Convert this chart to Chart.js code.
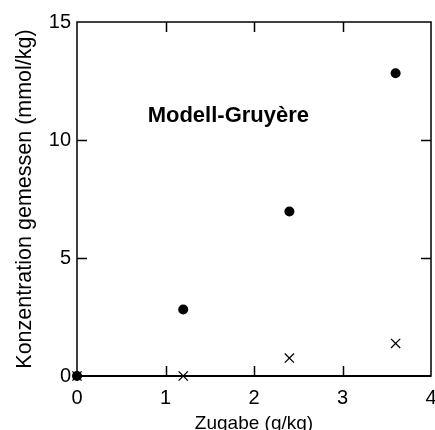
<!DOCTYPE html>
<html>
<head>
<meta charset="utf-8">
<script src="https://cdn.jsdelivr.net/npm/chart.js@4.4.1/dist/chart.umd.min.js"></script>
<style>
html,body{margin:0;padding:0;background:#fff;}
#wrap{width:435px;height:430px;}
</style>
</head>
<body>
<div id="wrap"><canvas id="c" width="435" height="430"></canvas></div>
<script>
const zugabe = [0, 1.2, 2.4, 3.6];
const gemessenPunkte = [0.0, 2.82, 6.97, 12.83];
const gemessenKreuze = [0.0, 0.0, 0.76, 1.38];
const xTicks = [0, 1, 2, 3, 4];
const yTicks = [0, 5, 10, 15];
const chartLabel = 'Modell-Gruyère';
const xTitle = 'Zugabe (g/kg)';
const yTitle = 'Konzentration gemessen (mmol/kg)';

const FONT = '"Liberation Sans", Arial, sans-serif';

const framePlugin = {
  id: 'frame',
  afterDatasetsDraw(chart) {
    const {ctx, chartArea: a, scales: {x, y}} = chart;
    ctx.save();
    ctx.strokeStyle = '#000';
    ctx.lineWidth = 1.5;
    ctx.strokeRect(a.left, a.top, a.right - a.left, a.bottom - a.top);
    ctx.lineWidth = 2;
    ctx.beginPath();
    ctx.moveTo(a.left, a.bottom);
    ctx.lineTo(a.right, a.bottom);
    ctx.stroke();
    ctx.lineWidth = 1.5;
    const tl = 10;
    ctx.beginPath();
    xTicks.forEach(v => {
      if (v === x.min || v === x.max) return;
      const px = Math.round(x.getPixelForValue(v)) + 0.5;
      ctx.moveTo(px, a.bottom); ctx.lineTo(px, a.bottom - tl);
      ctx.moveTo(px, a.top); ctx.lineTo(px, a.top + tl);
    });
    yTicks.forEach(v => {
      if (v === y.min || v === y.max) return;
      const py = Math.round(y.getPixelForValue(v)) + 0.5;
      ctx.moveTo(a.left, py); ctx.lineTo(a.left + tl, py);
      ctx.moveTo(a.right, py); ctx.lineTo(a.right - tl, py);
    });
    ctx.stroke();
    // inner label
    ctx.font = 'bold 22px ' + FONT;
    ctx.fillStyle = '#000';
    ctx.textAlign = 'center';
    ctx.textBaseline = 'middle';
    ctx.fillText(chartLabel, x.getPixelForValue(1.71), y.getPixelForValue(11.0));
    ctx.restore();
  }
};

new Chart(document.getElementById('c'), {
  type: 'scatter',
  data: {
    datasets: [
      {
        label: 'Punkte',
        data: zugabe.map((v, i) => ({x: v, y: gemessenPunkte[i]})),
        pointStyle: 'circle',
        pointRadius: 5,
        backgroundColor: '#000',
        borderColor: '#000',
        borderWidth: 0,
        clip: false
      },
      {
        label: 'Kreuze',
        data: zugabe.map((v, i) => ({x: v, y: gemessenKreuze[i]})),
        pointStyle: 'crossRot',
        pointRadius: 6.5,
        borderColor: '#000',
        backgroundColor: '#000',
        borderWidth: 1.3,
        clip: false
      }
    ]
  },
  options: {
    responsive: false,
    animation: false,
    devicePixelRatio: 1,
    layout: {autoPadding: false, padding: {left: 0, right: 4, top: 22, bottom: 0}},
    plugins: {legend: {display: false}, tooltip: {enabled: false}},
    scales: {
      x: {
        type: 'linear',
        min: 0, max: 4,
        afterFit(s) { s.height = 54; s.paddingLeft = 0; s.paddingRight = 0; },
        afterBuildTicks(s) { s.ticks = xTicks.map(v => ({value: v})); },
        grid: {display: false, drawTicks: false},
        border: {display: false},
        ticks: {color: '#000', font: {family: FONT, size: 20}, padding: 10, maxRotation: 0},
        title: {display: true, text: xTitle, color: '#000', font: {family: FONT, size: 19, lineHeight: 0.7}, padding: 0}
      },
      y: {
        type: 'linear',
        min: 0, max: 15,
        afterFit(s) { s.width = 77; s.paddingTop = 0; s.paddingBottom = 0; },
        afterBuildTicks(s) { s.ticks = yTicks.map(v => ({value: v})); },
        grid: {display: false, drawTicks: false},
        border: {display: false},
        ticks: {color: '#000', font: {family: FONT, size: 20}, padding: 6},
        title: {display: true, text: yTitle, color: '#000', font: {family: FONT, size: 21.5, lineHeight: 1.2}, padding: {top: 12, bottom: 0}}
      }
    }
  },
  plugins: [framePlugin]
});
</script>
</body>
</html>
